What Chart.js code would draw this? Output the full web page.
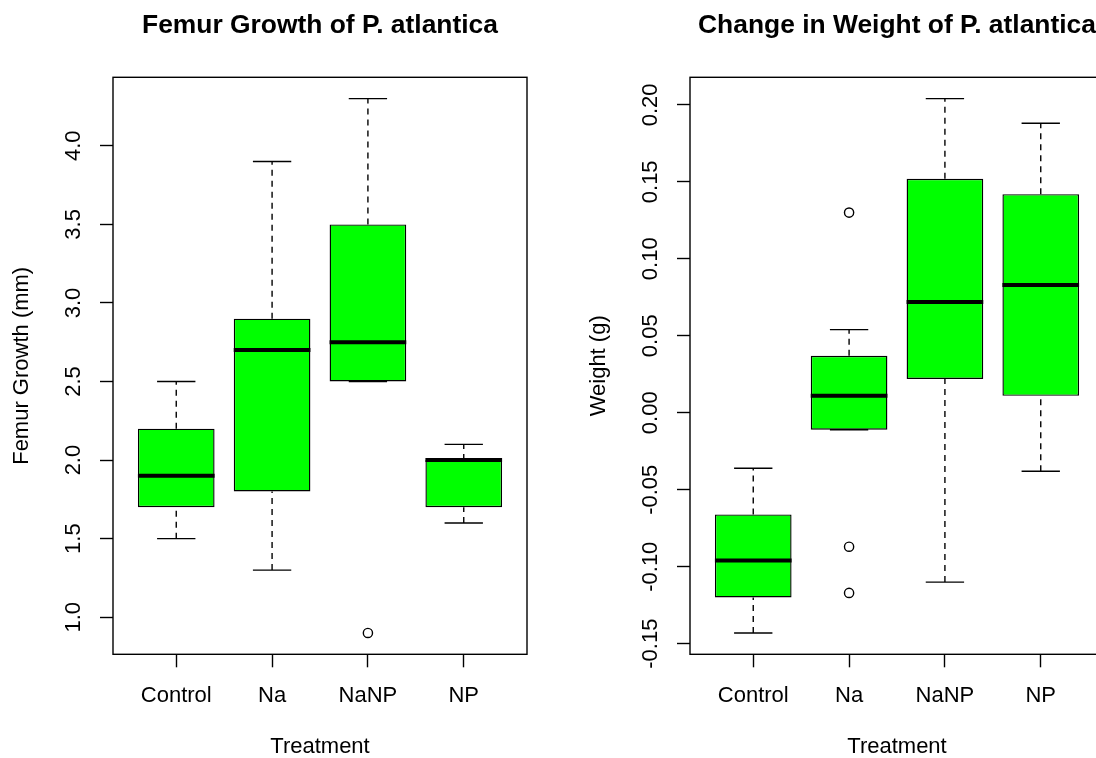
<!DOCTYPE html>
<html lang="en">
    <head>
        <meta charset="UTF-8" />
        <title>P. atlantica boxplots</title>
        <script src="https://cdn.jsdelivr.net/npm/chart.js"></script>
        <style>
            html, body {
                margin: 0;
                width: 1096px;
                height: 758px;
                overflow: hidden;
                background: #fff;
            }
            canvas {
                position: absolute;
                top: 0;
                display: block;
            }
        </style>
    </head>
    <body>
        <canvas id="femurChart" width="548" height="758" style="left: 0px"></canvas>
        <canvas id="weightChart" width="548" height="758" style="left: 577px"></canvas>

        <script>
            // groups on the x axis
            const categories = ["Control", "Na", "NaNP", "NP"];

            // femur growth (mm): whisker ends, hinges, medians, outliers
            const femurLow = [1.5, 1.3, 2.5, 1.6];
            const femurQ1 = [1.7, 1.8, 2.5, 1.7];
            const femurMedian = [1.9, 2.7, 2.75, 2.0];
            const femurQ3 = [2.2, 2.9, 3.5, 2.0];
            const femurHigh = [2.5, 3.9, 4.3, 2.1];
            const femurOutliers = [[], [], [0.9], []];
            const femurTicks = [1.0, 1.5, 2.0, 2.5, 3.0, 3.5, 4.0];

            // change in weight (g)
            const weightLow = [-0.143, -0.011, -0.11, -0.038];
            const weightQ1 = [-0.12, -0.011, 0.022, 0.011];
            const weightMedian = [-0.096, 0.011, 0.072, 0.083];
            const weightQ3 = [-0.066, 0.037, 0.152, 0.142];
            const weightHigh = [-0.036, 0.054, 0.204, 0.188];
            const weightOutliers = [[], [0.13, -0.087, -0.117], [], []];
            const weightTicks = [-0.15, -0.1, -0.05, 0.0, 0.05, 0.1, 0.15, 0.2];

            Chart.defaults.font.family = "'Liberation Sans', Arial, sans-serif";
            Chart.defaults.color = "#000";

            const boxFill = "#00ff00";
            const ink = "#000";
            const lw = 1.4;
            const boxWex = 0.8; // R default box width, in x units
            const stapleHalf = 0.2; // half width of whisker caps

            // R pads the data range by 4% on each side
            function padRange(lo, hi) {
                const d = (hi - lo) * 0.04;
                return [lo - d, hi + d];
            }

            function segment(x0, y0, x1, y1, dash, width, order) {
                return {
                    type: "line",
                    data: [{ x: x0, y: y0 }, { x: x1, y: y1 }],
                    borderColor: ink,
                    borderWidth: width,
                    borderDash: dash,
                    pointRadius: 0,
                    showLine: true,
                    fill: false,
                    order: order,
                };
            }

            function buildDatasets(low, q1, med, q3, high, outliers) {
                const sets = [];
                sets.push({
                    type: "bar",
                    data: categories.map((c, i) => ({ x: i + 1, y: [q1[i], q3[i]] })),
                    backgroundColor: boxFill,
                    borderColor: ink,
                    borderWidth: lw,
                    borderSkipped: false,
                    barPercentage: boxWex,
                    categoryPercentage: 1,
                    order: 2,
                });
                categories.forEach((c, i) => {
                    const x = i + 1;
                    sets.push(segment(x, q3[i], x, high[i], [6, 5], lw, 3));
                    sets.push(segment(x, low[i], x, q1[i], [6, 5], lw, 3));
                    sets.push(segment(x - stapleHalf, high[i], x + stapleHalf, high[i], [], lw, 3));
                    sets.push(segment(x - stapleHalf, low[i], x + stapleHalf, low[i], [], lw, 3));
                    sets.push(segment(x - boxWex / 2, med[i], x + boxWex / 2, med[i], [], 4, 0));
                });
                const pts = [];
                outliers.forEach((list, i) => list.forEach((v) => pts.push({ x: i + 1, y: v })));
                sets.push({
                    type: "line",
                    data: pts,
                    showLine: false,
                    pointStyle: "circle",
                    pointRadius: 4.6,
                    pointBorderWidth: lw,
                    pointBorderColor: ink,
                    pointBackgroundColor: "rgba(0,0,0,0)",
                    order: 1,
                });
                return sets;
            }

            const frame = {
                id: "frame",
                afterDraw(chart) {
                    const a = chart.chartArea;
                    const ctx = chart.ctx;
                    ctx.save();
                    ctx.strokeStyle = ink;
                    ctx.lineWidth = lw;
                    ctx.strokeRect(a.left, a.top, a.right - a.left, a.bottom - a.top);
                    ctx.restore();
                },
            };

            function makeChart(id, title, yTitle, s, yTicks, decimals, yTickPad) {
                const all = s.low.concat(s.high, ...s.outliers);
                const [yMin, yMax] = padRange(Math.min(...all), Math.max(...all));
                const [xMin, xMax] = padRange(0.5, categories.length + 0.5);
                const axisGrid = {
                    offset: false,
                    drawOnChartArea: false,
                    drawTicks: true,
                    tickLength: 13,
                    tickColor: ink,
                    tickWidth: lw,
                };
                return new Chart(document.getElementById(id), {
                    type: "bar",
                    data: { datasets: buildDatasets(s.low, s.q1, s.med, s.q3, s.high, s.outliers) },
                    plugins: [frame],
                    options: {
                        responsive: false,
                        animation: false,
                        devicePixelRatio: 1,
                        layout: { padding: { left: 0, right: 21, top: 0, bottom: 0 } },
                        plugins: {
                            legend: { display: false },
                            tooltip: { enabled: false },
                            title: {
                                display: true,
                                text: title,
                                fullSize: false,
                                color: ink,
                                font: { size: 26.4, weight: "bold", lineHeight: 1 },
                                padding: { top: 12.3, bottom: 38.6 },
                            },
                        },
                        scales: {
                            x: {
                                type: "linear",
                                min: xMin,
                                max: xMax,
                                offset: false,
                                afterBuildTicks: (sc) => {
                                    sc.ticks = categories.map((c, i) => ({ value: i + 1 }));
                                },
                                afterFit: (sc) => {
                                    sc.height = 103.7;
                                },
                                grid: axisGrid,
                                border: { display: false },
                                ticks: {
                                    autoSkip: false,
                                    maxRotation: 0,
                                    padding: 15,
                                    font: { size: 22 },
                                    callback: (v) => categories[v - 1],
                                },
                                title: {
                                    display: true,
                                    text: "Treatment",
                                    font: { size: 22, lineHeight: 1 },
                                    padding: { top: 0, bottom: 0 },
                                },
                            },
                            y: {
                                type: "linear",
                                min: yMin,
                                max: yMax,
                                afterBuildTicks: (sc) => {
                                    sc.ticks = yTicks.map((v) => ({ value: v }));
                                },
                                afterFit: (sc) => {
                                    sc.width = 113;
                                },
                                grid: axisGrid,
                                border: { display: false },
                                ticks: {
                                    autoSkip: false,
                                    minRotation: 90,
                                    maxRotation: 90,
                                    crossAlign: "center",
                                    padding: yTickPad,
                                    font: { size: 22 },
                                    callback: (v) => Number(v).toFixed(decimals),
                                },
                                title: {
                                    display: true,
                                    text: yTitle,
                                    font: { size: 22, lineHeight: 1 },
                                    padding: { top: 11, bottom: 0 },
                                },
                            },
                        },
                    },
                });
            }

            makeChart(
                "femurChart",
                "Femur Growth of P. atlantica",
                "Femur Growth (mm)",
                { low: femurLow, q1: femurQ1, med: femurMedian, q3: femurQ3, high: femurHigh, outliers: femurOutliers },
                femurTicks,
                1,
                11.2
            );
            makeChart(
                "weightChart",
                "Change in Weight of P. atlantica",
                "Weight (g)",
                { low: weightLow, q1: weightQ1, med: weightMedian, q3: weightQ3, high: weightHigh, outliers: weightOutliers },
                weightTicks,
                2,
                1
            );
        </script>
    </body>
</html>
